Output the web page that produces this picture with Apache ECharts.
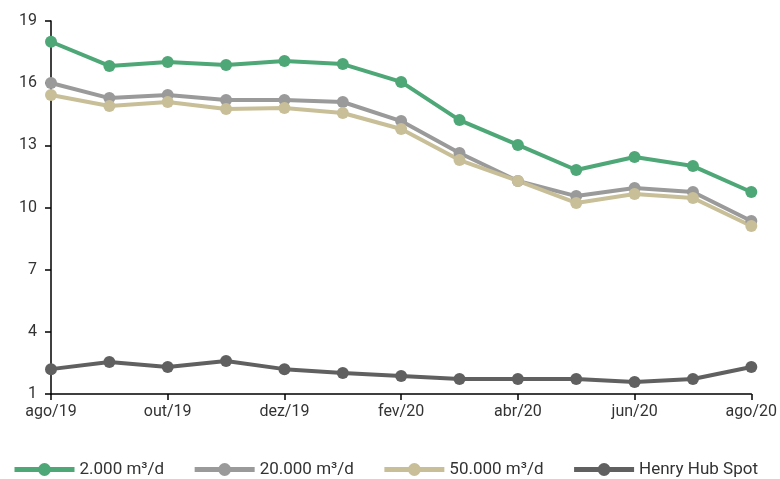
<!DOCTYPE html>
<html><head><meta charset="utf-8">
<script src="https://cdn.jsdelivr.net/npm/echarts@6/dist/echarts.min.js"></script>
<style>html,body{margin:0;padding:0;background:#fff}#c{width:780px;height:479px}</style>
</head><body><div id="c"></div>
<script>
const categories = ['ago/19','set/19','out/19','nov/19','dez/19','jan/20','fev/20','mar/20','abr/20','mai/20','jun/20','jul/20','ago/20'];
const s2000 = [18.0,16.83,17.02,16.88,17.07,16.92,16.06,14.22,13.02,11.81,12.44,12.0,10.75];
const s20000 = [16.01,15.28,15.43,15.19,15.19,15.09,14.17,12.63,11.28,10.55,10.94,10.75,9.35];
const s50000 = [15.43,14.90,15.09,14.75,14.80,14.56,13.79,12.29,11.28,10.22,10.65,10.46,9.11];
const henry = [2.20,2.54,2.30,2.59,2.20,2.01,1.87,1.72,1.72,1.72,1.58,1.72,2.30];
const seriesNames = ['2.000 m³/d','20.000 m³/d','50.000 m³/d','Henry Hub Spot'];
const colors = ['#4ea776','#9a9a9a','#c8bf98','#606060'];
const font = 'Roboto,"Noto Sans",sans-serif';
const chart = echarts.init(document.getElementById('c'));
const mk = (name, data, color) => ({
  name, type:'line', data, symbol:'circle', symbolSize:12,
  lineStyle:{width:4,color}, itemStyle:{color}, z: 2
});
chart.setOption({
  animation:false,
  textStyle:{fontFamily:font},
  grid:{left:51,right:27,top:21,bottom:85,containLabel:false},
  legend:{
    left:7, top:456, itemWidth:60, itemHeight:16, itemGap:28,
    lineStyle:{width:5},
    textStyle:{fontSize:17,color:'#333',fontFamily:font},
    data:seriesNames
  },
  xAxis:{
    type:'category', data:categories, boundaryGap:false,
    axisLine:{lineStyle:{color:'#000',width:1.5}},
    axisTick:{show:true,interval:1,length:6,lineStyle:{color:'#000',width:1.5}},
    axisLabel:{interval:1,fontSize:16,color:'#333',margin:10,fontFamily:font},
    splitLine:{show:false}
  },
  yAxis:{
    type:'value', min:1, max:19, interval:3,
    axisLine:{show:true,lineStyle:{color:'#000',width:1.5}},
    axisTick:{show:true,length:6,lineStyle:{color:'#000',width:1.5}},
    axisLabel:{fontSize:16,color:'#333',margin:14,fontFamily:font},
    splitLine:{show:false}
  },
  series:[
    mk(seriesNames[0], s2000, colors[0]),
    mk(seriesNames[1], s20000, colors[1]),
    mk(seriesNames[2], s50000, colors[2]),
    mk(seriesNames[3], henry, colors[3])
  ]
});
</script></body></html>
